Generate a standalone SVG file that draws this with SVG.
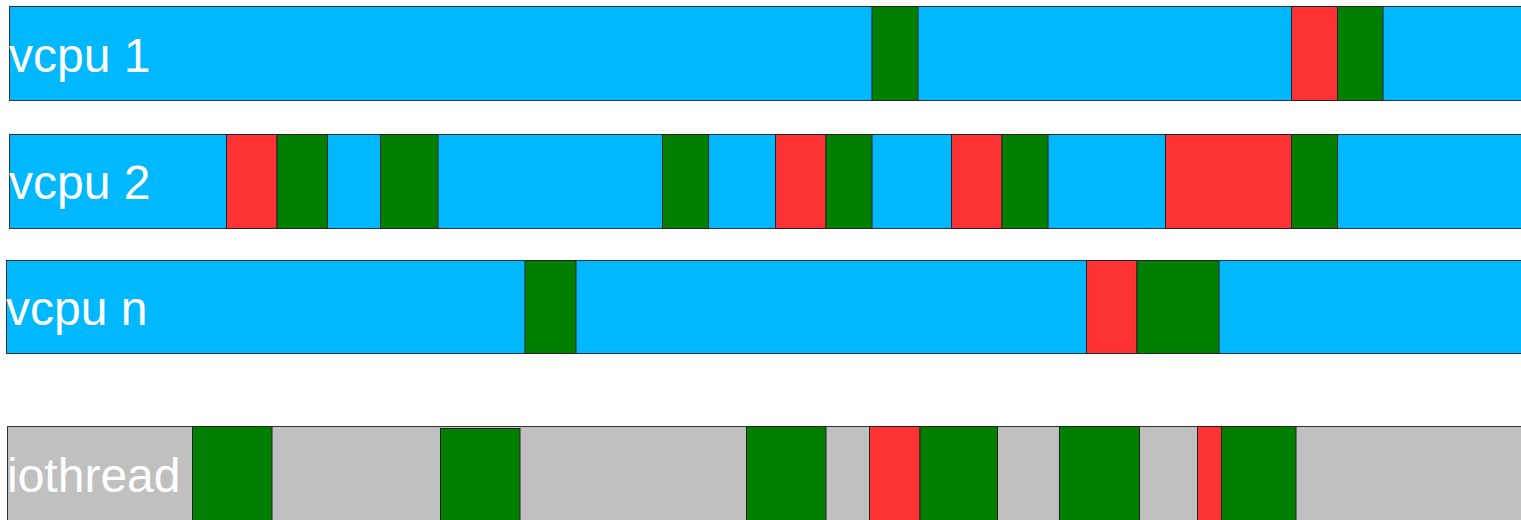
<svg xmlns="http://www.w3.org/2000/svg" width="1521" height="520" viewBox="0 0 1521 520">
<style>
.bar{fill:#00b8ff;stroke:#333;stroke-width:1}
.io{fill:#c0c0c0;stroke:#333;stroke-width:1}
.r{fill:#ff3333;stroke:#222;stroke-width:1}
.g{fill:#007f00;stroke:#222;stroke-width:1}
.lbl{font-family:"Liberation Sans",Arial,sans-serif;font-size:48px;fill:#ffffff}
</style>
<rect width="1521" height="520" fill="#ffffff"/>
<g id="vcpu1">
<rect class="bar" x="9.5" y="6.5" width="1520" height="94"/>
<rect class="g" x="872" y="6.5" width="46" height="94"/>
<rect class="r" x="1291.5" y="6.5" width="46" height="94"/>
<rect class="g" x="1337.5" y="6.5" width="45.5" height="94"/>
<text class="lbl" x="9" y="72">vcpu 1</text>
</g>
<g id="vcpu2">
<rect class="bar" x="9.5" y="134.5" width="1520" height="94"/>
<rect class="r" x="226.5" y="134.5" width="50.5" height="94"/>
<rect class="g" x="277" y="134.5" width="50.5" height="94"/>
<rect class="g" x="380.5" y="134.5" width="57.5" height="94"/>
<rect class="g" x="662.5" y="134.5" width="46" height="94"/>
<rect class="r" x="775.5" y="134.5" width="50.5" height="94"/>
<rect class="g" x="826" y="134.5" width="46" height="94"/>
<rect class="r" x="951.5" y="134.5" width="50.5" height="94"/>
<rect class="g" x="1002" y="134.5" width="46" height="94"/>
<rect class="r" x="1165.5" y="134.5" width="126" height="94"/>
<rect class="g" x="1291.5" y="134.5" width="46" height="94"/>
<text class="lbl" x="9" y="199">vcpu 2</text>
</g>
<g id="vcpun">
<rect class="bar" x="6.5" y="260.5" width="1523" height="93"/>
<rect class="g" x="525" y="260.5" width="51" height="93"/>
<rect class="r" x="1086.5" y="260.5" width="50.5" height="93"/>
<rect class="g" x="1137" y="260.5" width="82" height="93"/>
<text class="lbl" x="6" y="325">vcpu n</text>
</g>
<g id="iothread">
<rect class="io" x="7.5" y="426.5" width="1522" height="94"/>
<rect class="g" x="192.5" y="426.5" width="79.5" height="94"/>
<rect class="g" x="440.5" y="428.5" width="79.5" height="92"/>
<rect class="g" x="746.5" y="426.5" width="79.5" height="94"/>
<rect class="r" x="869.5" y="426.5" width="50.5" height="94"/>
<rect class="g" x="920" y="426.5" width="77.5" height="94"/>
<rect class="g" x="1059.5" y="426.5" width="80" height="94"/>
<rect class="r" x="1197.5" y="426.5" width="24" height="94"/>
<rect class="g" x="1221.5" y="426.5" width="74.5" height="94"/>
<text class="lbl" x="7" y="492">iothread</text>
</g>
<g id="connectors"/>
</svg>
